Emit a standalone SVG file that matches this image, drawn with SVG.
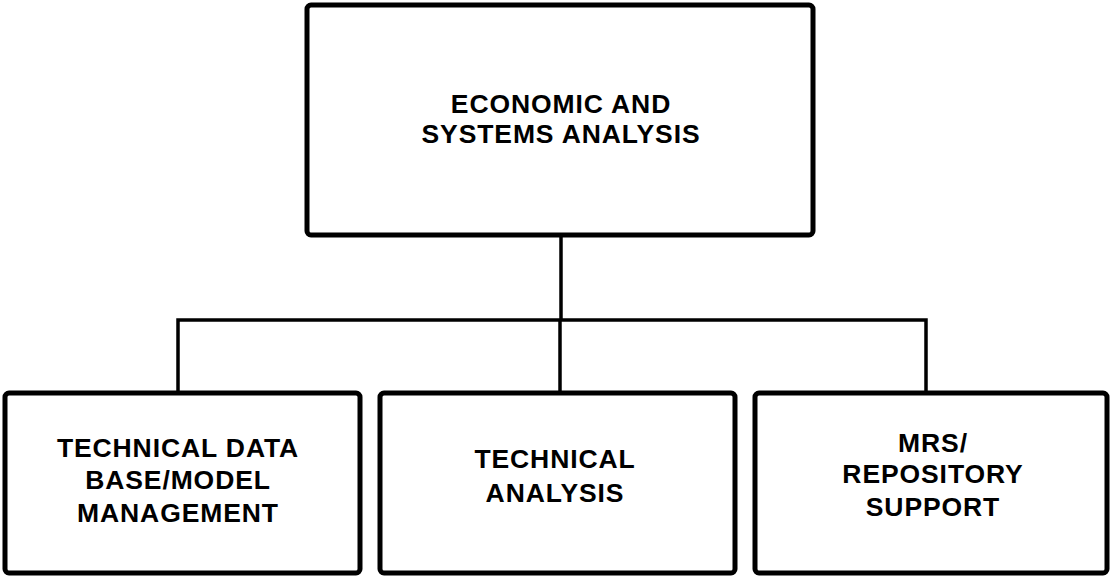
<svg xmlns="http://www.w3.org/2000/svg" width="1111" height="576" viewBox="0 0 1111 576">
<style>
.box{fill:#fff;stroke:#000;stroke-width:5;stroke-linejoin:round}
.conn{fill:none;stroke:#000;stroke-width:3.5}
.t{font-family:"Liberation Sans",Arial,sans-serif;font-weight:bold;font-size:26.5px;letter-spacing:0.9px;text-anchor:middle;fill:#000}
</style>
<rect x="0" y="0" width="1111" height="576" fill="#fff"/>
<g id="connectors">
<path class="conn" d="M561 235 V320"/>
<path class="conn" d="M178 392 V320 H926 V392"/>
<path class="conn" d="M560 320 V392"/>
</g>
<g id="node-esa">
<rect class="box" x="307" y="5" width="506" height="230" rx="4"/>
<text class="t" x="561" y="113">ECONOMIC AND</text>
<text class="t" x="561" y="143">SYSTEMS ANALYSIS</text>
</g>
<g id="node-tdb">
<rect class="box" x="5" y="393" width="355" height="180" rx="4"/>
<text class="t" x="178" y="457">TECHNICAL DATA</text>
<text class="t" x="178" y="489">BASE/MODEL</text>
<text class="t" x="178" y="522">MANAGEMENT</text>
</g>
<g id="node-ta">
<rect class="box" x="380" y="393" width="355" height="180" rx="4"/>
<text class="t" x="555" y="468">TECHNICAL</text>
<text class="t" x="555" y="502">ANALYSIS</text>
</g>
<g id="node-mrs">
<rect class="box" x="755" y="393" width="352" height="180" rx="4"/>
<text class="t" x="933" y="452">MRS/</text>
<text class="t" x="933" y="483">REPOSITORY</text>
<text class="t" x="933" y="516">SUPPORT</text>
</g>
</svg>
